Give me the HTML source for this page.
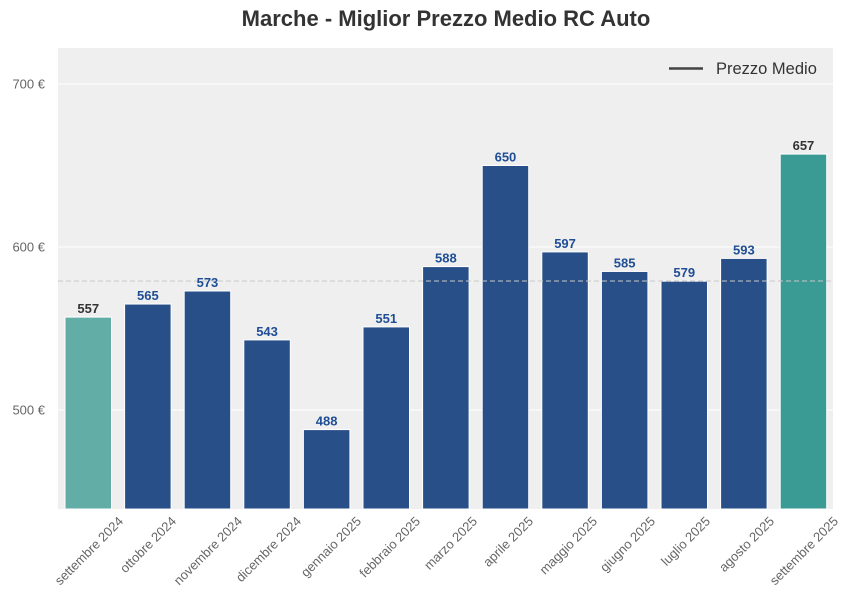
<!DOCTYPE html>
<html><head><meta charset="utf-8"><style>body{margin:0;background:#fff}svg{display:block}text{font-family:"Liberation Sans",Arial,sans-serif}</style></head><body>
<svg width="852" height="610" viewBox="0 0 852 610" xmlns="http://www.w3.org/2000/svg">
<text x="446" y="26" text-anchor="middle" font-size="22" font-weight="bold" fill="#333">Marche - Miglior Prezzo Medio RC Auto</text>
<rect x="58" y="48" width="775" height="461" fill="#efefef"/>
<g stroke="#fff" stroke-width="1">
<line x1="58" x2="833" y1="84" y2="84"/><line x1="58" x2="833" y1="247" y2="247"/><line x1="58" x2="833" y1="410" y2="410"/>
</g>
<g font-size="13" fill="#666" text-anchor="end">
<text x="45" y="88.5">700 €</text><text x="45" y="251.5">600 €</text><text x="45" y="414.5">500 €</text>
</g>
<g stroke="#fff" stroke-width="1">
<rect x="65" y="317.1" width="46.5" height="191.9" fill="#62ada6"/>
<rect x="124.6" y="304.05" width="46.5" height="205" fill="#284f88"/>
<rect x="184.2" y="291" width="46.5" height="218" fill="#284f88"/>
<rect x="243.8" y="339.9" width="46.5" height="169.1" fill="#284f88"/>
<rect x="303.4" y="429.6" width="46.5" height="79.4" fill="#284f88"/>
<rect x="363" y="326.9" width="46.5" height="182.1" fill="#284f88"/>
<rect x="422.6" y="266.6" width="46.5" height="242.4" fill="#284f88"/>
<rect x="482.2" y="165.5" width="46.5" height="343.5" fill="#284f88"/>
<rect x="541.8" y="251.9" width="46.5" height="257.1" fill="#284f88"/>
<rect x="601.4" y="271.45" width="46.5" height="237.55" fill="#284f88"/>
<rect x="661" y="281.2" width="46.5" height="227.8" fill="#284f88"/>
<rect x="720.6" y="258.4" width="46.5" height="250.6" fill="#284f88"/>
<rect x="780.2" y="154.1" width="46.5" height="354.9" fill="#3a9a94"/>
</g>
<line x1="58" x2="833" y1="281" y2="281" stroke="#c8c8c8" stroke-width="1" stroke-dasharray="5,3"/>
<g font-size="13" font-weight="bold" text-anchor="middle" fill="#1f4e95">
<text x="88.25" y="313" fill="#333">557</text>
<text x="147.85" y="300">565</text>
<text x="207.45" y="287">573</text>
<text x="267.05" y="336">543</text>
<text x="326.65" y="425.5">488</text>
<text x="386.25" y="323">551</text>
<text x="445.85" y="262.5">588</text>
<text x="505.45" y="161.5">650</text>
<text x="565.05" y="248">597</text>
<text x="624.65" y="267.5">585</text>
<text x="684.25" y="277">579</text>
<text x="743.85" y="254.5">593</text>
<text x="803.45" y="150" fill="#333">657</text>
</g>
<g font-size="13" fill="#666" text-anchor="end">
<text transform="translate(124,522) rotate(-45)">settembre 2024</text>
<text transform="translate(177,522) rotate(-45)">ottobre 2024</text>
<text transform="translate(243,522) rotate(-45)">novembre 2024</text>
<text transform="translate(302,522) rotate(-45)">dicembre 2024</text>
<text transform="translate(362,522) rotate(-45)">gennaio 2025</text>
<text transform="translate(421,522) rotate(-45)">febbraio 2025</text>
<text transform="translate(478,522) rotate(-45)">marzo 2025</text>
<text transform="translate(534,522) rotate(-45)">aprile 2025</text>
<text transform="translate(598,522) rotate(-45)">maggio 2025</text>
<text transform="translate(656,522) rotate(-45)">giugno 2025</text>
<text transform="translate(711,522) rotate(-45)">luglio 2025</text>
<text transform="translate(775,522) rotate(-45)">agosto 2025</text>
<text transform="translate(839,522) rotate(-45)">settembre 2025</text>
</g>
<line x1="669" x2="703" y1="68.5" y2="68.5" stroke="#444" stroke-width="2.5"/>
<text x="716" y="74" font-size="16.5" fill="#333">Prezzo Medio</text>
</svg>
</body></html>
